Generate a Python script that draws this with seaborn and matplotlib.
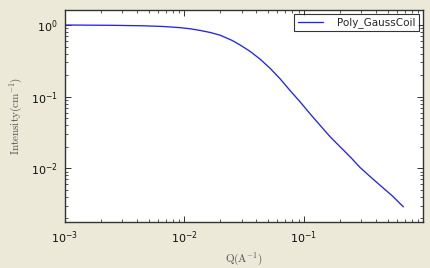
import matplotlib
matplotlib.use("Agg")
import matplotlib.pyplot as plt
import seaborn as sns
import pandas as pd

q_values = [0.001, 0.0025, 0.0045, 0.0065, 0.0091, 0.0112, 0.0135, 0.0165, 0.0199,
            0.025, 0.029, 0.0353, 0.0428, 0.0519, 0.063, 0.0764, 0.092, 0.112,
            0.136, 0.165, 0.204, 0.25, 0.294, 0.36, 0.433, 0.55, 0.678]
intensity = [1.0, 0.99, 0.975, 0.955, 0.92, 0.885, 0.84, 0.785, 0.72,
             0.61, 0.53, 0.43, 0.335, 0.25, 0.178, 0.122, 0.086, 0.058,
             0.040, 0.0277, 0.0194, 0.0138, 0.0103, 0.0076, 0.0058, 0.0041, 0.0029]
series_name = "Poly_GaussCoil"
x_ticks = [1e-3, 1e-2, 1e-1]

df = pd.DataFrame({"Q": q_values, "I": intensity, "model": series_name})

sns.set_style("ticks")
plt.rcParams["font.family"] = ["DejaVu Sans"]
plt.rcParams["mathtext.fontset"] = "cm"

fig = plt.figure(figsize=(4.31, 2.68), dpi=100, facecolor="#ECE9D8")
ax = fig.add_axes([0.1508, 0.1716, 0.8306, 0.7911])
ax.set_facecolor("white")

sns.lineplot(data=df, x="Q", y="I", hue="model", palette=["#2424E8"],
             linewidth=0.95, ax=ax, sort=True)

ax.set_xscale("log")
ax.set_yscale("log")
ax.set_xlim(1e-3, 0.99)
ax.set_ylim(1.78e-3, 1.62)
ax.set_xticks(x_ticks)

ax.tick_params(which="both", direction="in", top=True, right=True,
               labelsize=8, colors="#111111", pad=5)
ax.tick_params(which="major", length=4, width=0.6)
ax.tick_params(which="minor", length=2, width=0.5)
for s in ax.spines.values():
    s.set_color("#333333")
    s.set_linewidth(1.0)

ax.set_xlabel(r"$\mathrm{Q(A^{-1})}$", fontsize=8, color="#555555", labelpad=4)
ax.set_ylabel(r"$\mathrm{Intensity(cm^{-1})}$", fontsize=8, color="#555555", labelpad=4)

leg = ax.legend(loc="upper right", fontsize=7.5, frameon=True, fancybox=False,
                borderpad=0.3, handlelength=2.4, handletextpad=1.4,
                borderaxespad=0.4)
leg.get_frame().set_edgecolor("black")
leg.get_frame().set_linewidth(0.8)

fig.savefig("out.png", dpi=100, facecolor=fig.get_facecolor())
